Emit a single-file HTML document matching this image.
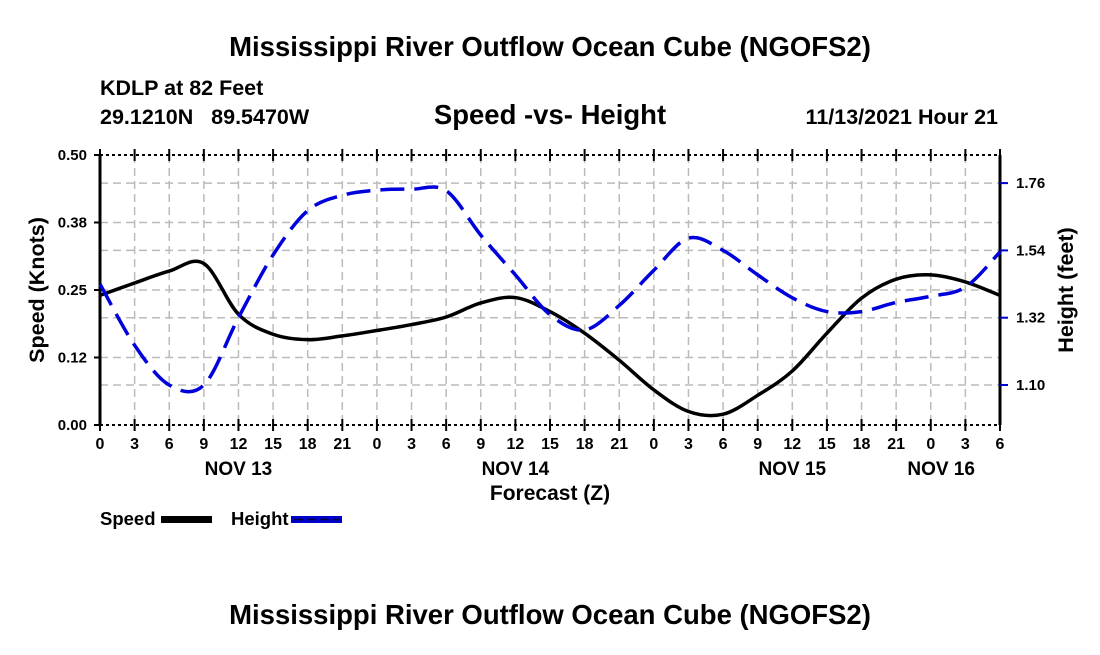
<!DOCTYPE html>
<html><head><meta charset="utf-8"><style>
html,body{margin:0;padding:0;background:#fff;}
svg text{font-family:"Liberation Sans",Arial,sans-serif;font-weight:bold;fill:#000;white-space:pre;}
</style></head><body>
<svg width="1100" height="650" viewBox="0 0 1100 650" xmlns="http://www.w3.org/2000/svg">
<text x="550" y="56" font-size="27.5" text-anchor="middle">Mississippi River Outflow Ocean Cube (NGOFS2)</text>
<text x="100" y="95" font-size="21.5">KDLP at 82 Feet</text>
<text x="100" y="124" font-size="21.5">29.1210N   89.5470W</text>
<text x="550" y="124" font-size="27.5" text-anchor="middle">Speed -vs- Height</text>
<text x="998" y="124" font-size="21.5" text-anchor="end">11/13/2021 Hour 21</text>
<g id="grid"></g>
<g id="axes"></g>
<g id="series"></g>
<text transform="translate(44,290) rotate(-90)" font-size="21.5" text-anchor="middle">Speed (Knots)</text>
<text transform="translate(1073,290) rotate(-90)" font-size="21.5" text-anchor="middle">Height (feet)</text>
<text x="550" y="500" font-size="21" text-anchor="middle">Forecast (Z)</text>
<g>
<text x="100" y="525" font-size="18.5">Speed</text>
<rect x="161" y="516" width="51" height="7" fill="#000"/>
<text x="231" y="525" font-size="18.5">Height</text>
<rect x="291" y="516" width="51" height="7" fill="#0000cc"/>
<line x1="294" y1="519.5" x2="340" y2="519.5" stroke="#000044" stroke-width="1.5" stroke-dasharray="9 4"/>
</g>
<text x="550" y="624" font-size="27.5" text-anchor="middle">Mississippi River Outflow Ocean Cube (NGOFS2)</text>
</svg>
<script>
const hourLabels=["0","3","6","9","12","15","18","21","0","3","6","9","12","15","18","21","0","3","6","9","12","15","18","21","0","3","6"];
const dayLabels=["NOV 13","NOV 14","NOV 15","NOV 16"];
const dayIdx=[4,12,20,24.3];
const speedTicks=[0,0.125,0.25,0.375,0.5];
const speedTickLabels=["0.00","0.12","0.25","0.38","0.50"];
const heightTicks=[1.10,1.32,1.54,1.76];
const speedVals=[0.24,0.263,0.285,0.299,0.205,0.168,0.158,0.165,0.175,0.186,0.2,0.226,0.236,0.21,0.17,0.12,0.065,0.025,0.02,0.055,0.1,0.17,0.235,0.27,0.278,0.265,0.24];
const heightVals=[1.43,1.23,1.1,1.1,1.32,1.525,1.67,1.72,1.737,1.74,1.735,1.59,1.46,1.33,1.28,1.36,1.475,1.58,1.54,1.46,1.385,1.34,1.34,1.37,1.39,1.42,1.535];
const L=100,R=1000,T=155,B=425;
const NS="http://www.w3.org/2000/svg";
const xs=i=>L+(R-L)*i/26;
const ys=v=>B-(B-T)*v/0.5;
const yh=v=>385-(v-1.10)/0.22*67.3;
function mk(tag,attrs,parent,text){const e=document.createElementNS(NS,tag);for(const k in attrs)e.setAttribute(k,attrs[k]);if(text!==undefined)e.textContent=text;document.getElementById(parent).appendChild(e);return e;}
for(let i=1;i<26;i++){const g=mk('line',{x1:xs(i),x2:xs(i),y1:T,y2:B,stroke:'#bbb','stroke-width':1.5,'stroke-dasharray':'8 5'},'grid');

}
const hy=[...speedTicks.slice(1,4).map(ys),...heightTicks.map(yh)];
hy.forEach(y=>{const g=mk('line',{x1:L,x2:R,y1:y,y2:y,stroke:'#bbb','stroke-width':1.5,'stroke-dasharray':'8 5'},'grid');

});
mk('line',{x1:L,x2:L,y1:T,y2:B,stroke:'#000','stroke-width':3},'axes');
mk('line',{x1:R,x2:R,y1:T,y2:B,stroke:'#000','stroke-width':3},'axes');
[T,B].forEach(y=>{mk('line',{x1:L,x2:R,y1:y,y2:y,stroke:'#000','stroke-width':2,'stroke-dasharray':'3 3'},'axes');});
hourLabels.forEach((t,i)=>{
mk('line',{x1:xs(i),x2:xs(i),y1:B-6,y2:B+6,stroke:'#000','stroke-width':2},'axes');
mk('line',{x1:xs(i),x2:xs(i),y1:T-6,y2:T+6,stroke:'#000','stroke-width':2},'axes');
const e=mk('text',{x:xs(i),y:449,'font-size':16,'text-anchor':'middle'},'axes',t);

});
dayLabels.forEach((t,i)=>{const e=mk('text',{x:xs(dayIdx[i]),y:475,'font-size':19,'text-anchor':'middle'},'axes',t);

});
speedTicks.forEach((v,i)=>{mk('line',{x1:L-6,x2:L,y1:ys(v),y2:ys(v),stroke:'#000','stroke-width':2},'axes');
const e=mk('text',{x:L-13,y:ys(v)+5,'font-size':15,'text-anchor':'end'},'axes',speedTickLabels[i]);

});
heightTicks.forEach(v=>{mk('line',{x1:R,x2:R+8,y1:yh(v),y2:yh(v),stroke:'#0000cc','stroke-width':2},'axes');
const e=mk('text',{x:R+16,y:yh(v)+5,'font-size':15},'axes',v.toFixed(2));

});
function smooth(pts){let d=`M${pts[0][0]},${pts[0][1]}`;for(let i=0;i<pts.length-1;i++){const p0=pts[i-1]||pts[i],p1=pts[i],p2=pts[i+1],p3=pts[i+2]||p2;
d+=` C${p1[0]+(p2[0]-p0[0])/6},${p1[1]+(p2[1]-p0[1])/6} ${p2[0]-(p3[0]-p1[0])/6},${p2[1]-(p3[1]-p1[1])/6} ${p2[0]},${p2[1]}`;}return d;}
const sp=mk('path',{d:smooth(speedVals.map((v,i)=>[xs(i),ys(v)])),fill:'none',stroke:'#000','stroke-width':3.5},'series');


const hp=mk('path',{d:smooth(heightVals.map((v,i)=>[xs(i),yh(v)])),fill:'none',stroke:'#0000dd','stroke-width':3.5,'stroke-dasharray':'24 10'},'series');


</script>
</body></html>
